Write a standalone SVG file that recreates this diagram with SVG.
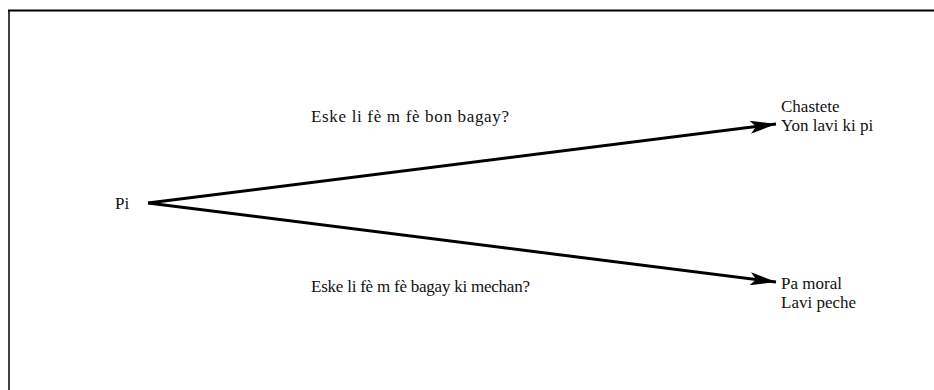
<svg xmlns="http://www.w3.org/2000/svg" width="934" height="390" viewBox="0 0 934 390">
<style>
text{font-family:"Liberation Serif","DejaVu Serif",serif;font-size:17px;fill:#111}
.edge{stroke:#000;stroke-width:3;fill:none}
</style>
<defs>
<marker id="ah" viewBox="0 0 26 13" refX="26" refY="6.5" markerWidth="26" markerHeight="13" markerUnits="userSpaceOnUse" orient="auto">
<path d="M0,0 L26,6.5 L0,13 L6,6.5 Z" fill="#000"/>
</marker>
</defs>
<rect width="934" height="390" fill="#fff"/>
<g id="frame">
<line x1="8" y1="10.5" x2="934" y2="10.5" stroke="#000" stroke-width="2"/>
<line x1="9" y1="10" x2="9" y2="390" stroke="#000" stroke-width="1.5"/>
</g>
<g id="connectors">
<line class="edge" x1="148" y1="203" x2="776" y2="124" marker-end="url(#ah)"/>
<line class="edge" x1="148" y1="203" x2="776" y2="282" marker-end="url(#ah)"/>
<text x="311" y="122" textLength="198">Eske li fè m fè bon bagay?</text>
<text x="311" y="292" textLength="219">Eske li fè m fè bagay ki mechan?</text>
</g>
<g id="pi"><text x="115" y="209">Pi</text></g>
<g id="top"><text x="781" y="112">Chastete</text><text x="781" y="131">Yon lavi ki pi</text></g>
<g id="bottom"><text x="781" y="289">Pa moral</text><text x="781" y="308">Lavi peche</text></g>
</svg>
